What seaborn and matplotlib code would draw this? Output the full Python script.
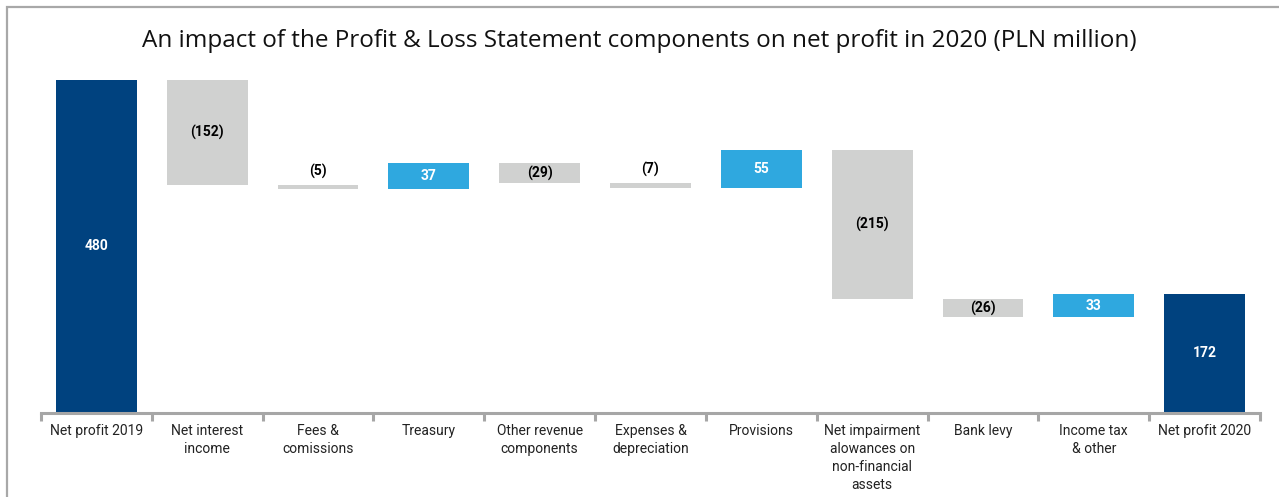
"""Waterfall: impact of P&L components on net profit 2020 (PLN million)."""

import numpy as np
import pandas as pd
import matplotlib

matplotlib.use("Agg")
import matplotlib.pyplot as plt
from matplotlib.patches import Rectangle
import seaborn as sns

CATEGORIES = [
    "Net profit 2019",
    "Net interest\nincome",
    "Fees &\ncomissions",
    "Treasury",
    "Other revenue\ncomponents",
    "Expenses &\ndepreciation",
    "Provisions",
    "Net impairment\nalowances on\nnon-financial\nassets",
    "Bank levy",
    "Income tax\n& other",
    "Net profit 2020",
]
START_VALUE = 480
CHANGES = [-152, -5, 37, -29, -7, 55, -215, -26, 33]
END_VALUE = 172

NAVY = "#00427f"
BLUE = "#2fa8df"
GREY = "#d0d1d0"
AXIS_GREY = "#a6a6a6"

FONT = ["Roboto", "DejaVu Sans"]


def main() -> None:
    sns.set_style("white")
    plt.rcParams["font.family"] = FONT

    # running totals for the floating bars
    levels = START_VALUE + np.cumsum([0] + CHANGES)
    bases = [0.0]
    heights = [float(START_VALUE)]
    for prev, ch in zip(levels[:-1], CHANGES):
        bases.append(float(min(prev, prev + ch)))
        heights.append(float(abs(ch)))
    bases.append(0.0)
    heights.append(float(END_VALUE))
    values = [START_VALUE] + CHANGES + [END_VALUE]
    colors = [NAVY] + [BLUE if c > 0 else GREY for c in CHANGES] + [NAVY]

    df = pd.DataFrame({"category": CATEGORIES, "height": heights})

    fig = plt.figure(figsize=(12.79, 4.97), dpi=100)
    ax = fig.add_axes([41 / 1279, 1 - 413 / 497, 1219 / 1279, 333 / 497])

    sns.barplot(data=df, x="category", y="height", bottom=bases,
                color=GREY, width=0.73, saturation=1, ax=ax)
    for patch, col in zip(ax.patches, colors):
        patch.set_facecolor(col)
        patch.set_edgecolor("none")

    ax.set_xlim(-0.5, len(CATEGORIES) - 0.5)
    ax.set_ylim(0, START_VALUE)

    # value labels
    for i, (b, h, v, col) in enumerate(zip(bases, heights, values, colors)):
        txt = f"({abs(v)})" if v < 0 else f"{v}"
        txt_col = "white" if col in (NAVY, BLUE) else "black"
        if h < 15:
            ax.text(i, b + h + 9, txt, ha="center", va="bottom",
                    fontsize=10, fontweight="bold", color="black")
        else:
            ax.text(i, b + h / 2, txt, ha="center", va="center",
                    fontsize=10, fontweight="bold", color=txt_col)

    for side in ("top", "right", "left"):
        ax.spines[side].set_visible(False)
    ax.spines["bottom"].set_color(AXIS_GREY)
    ax.spines["bottom"].set_linewidth(2.2)
    ax.set_yticks([])
    ax.set_xlabel("")
    ax.set_ylabel("")
    ax.set_xticks(range(len(CATEGORIES)))
    ax.set_xticklabels(CATEGORIES, fontsize=10, linespacing=1.35, va="top")
    ax.set_xticks(np.arange(-0.5, len(CATEGORIES)), minor=True)
    ax.tick_params(axis="x", which="major", bottom=True, length=0, pad=8,
                   colors="#222222")
    ax.tick_params(axis="x", which="minor", bottom=True, length=6, width=2.2,
                   color=AXIS_GREY, direction="out")

    fig.text(0.5, 1 - 41 / 497, "An impact of the Profit & Loss Statement "
             "components on net profit in 2020 (PLN million)",
             ha="center", va="center", fontsize=17.5, fontweight="medium",
             color="#111111", family=["Open Sans", "DejaVu Sans"])

    # frame around the slide, cut at right/bottom edge
    fig.patches.append(Rectangle((7 / 1279, -0.1), 1.2, 1 - 7 / 497 + 0.1,
                                 transform=fig.transFigure, fill=False,
                                 edgecolor="#a8a8a8", linewidth=1.6))

    fig.savefig("out.png", dpi=100)


if __name__ == "__main__":
    main()
